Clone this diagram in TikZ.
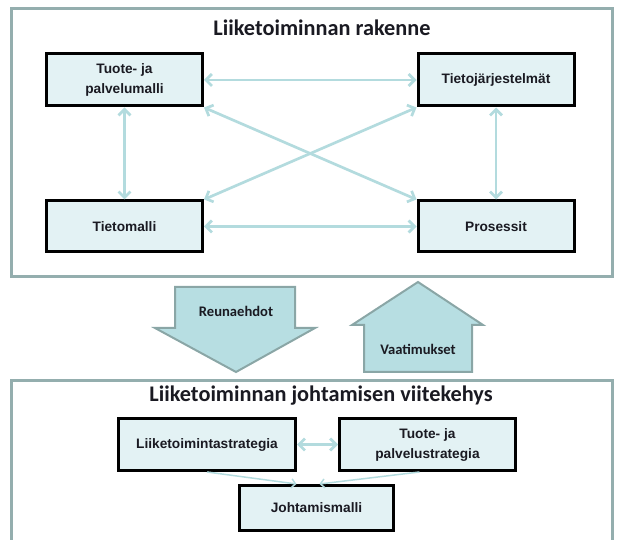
\documentclass[tikz,border=0pt]{standalone}
\usepackage{fontspec}
\setmainfont{Liberation Sans}
\newfontfamily\titlefont{Carlito}
\usetikzlibrary{arrows.meta}

\definecolor{framecol}{HTML}{94AEAE}
\definecolor{boxfill}{HTML}{E3F2F4}
\definecolor{linkcol}{HTML}{B3DBDE}
\definecolor{bigfill}{HTML}{B7DEE2}
\definecolor{bigedge}{HTML}{8AA6A6}
\definecolor{textdark}{HTML}{1A1A22}

\tikzset{
  frame/.style={draw=framecol, line width=3pt},
  stepbox/.style={draw=black, line width=3pt, fill=boxfill, inner sep=0pt,
    text=textdark, align=center, font=\bfseries\fontsize{13.7}{20}\selectfont},
  heading/.style={text=textdark, font=\titlefont\bfseries\fontsize{22.3}{26}\selectfont},
  biglabel/.style={text=textdark, font=\titlefont\bfseries\fontsize{14.6}{17}\selectfont},
  bigarrow/.style={draw=bigedge, fill=bigfill, line width=2pt, line join=miter},
  link/.style={draw=linkcol, line width=2.7pt,
    {Straight Barb[length=6pt,width=12pt]}-{Straight Barb[length=6pt,width=12pt]}},
  thinlink/.style={draw=linkcol, line width=1.5pt,
    -{Straight Barb[length=4pt,width=9pt]}},
}

\begin{document}
\begin{tikzpicture}[x=1pt, y=-1pt]
  \useasboundingbox (0,0) rectangle (622,540);

  % upper frame: business structure
  \draw[frame] (11.5,8.5) rectangle (612.5,276.5);
  \node[heading] (t1) at (322,28) {Liiketoiminnan rakenne};

  \node[stepbox, minimum width=156pt, minimum height=52pt] (tpm) at (124.5,80) {Tuote- ja\\palvelumalli};
  \node[stepbox, minimum width=156pt, minimum height=52pt] (tj)  at (496,80) {Tietojärjestelmät};
  \node[stepbox, minimum width=156pt, minimum height=51pt] (tm)  at (124.5,226.5) {Tietomalli};
  \node[stepbox, minimum width=156pt, minimum height=51pt] (pr)  at (496,226.5) {Prosessit};

  \draw[link] (tpm.east) -- (tj.west);
  \draw[link] (tm.east) -- (pr.west);
  \draw[link] (tpm.south) -- (tm.north);
  \draw[link] (tj.south) -- (pr.north);
  \draw[link] (tpm.south east) -- (pr.north west);
  \draw[link] (tj.south west) -- (tm.north east);

  % block arrows between the frames
  \draw[bigarrow] (175,287) -- (295,287) -- (295,328) -- (315,328) -- (236,372)
    -- (155,328) -- (175,328) -- cycle;
  \node[biglabel] (reuna) at (236,311) {Reunaehdot};

  \draw[bigarrow] (418,282) -- (483,325) -- (472,325) -- (472,372) -- (364,372)
    -- (364,325) -- (352,325) -- cycle;
  \node[biglabel] (vaat) at (418,349) {Vaatimukset};

  % lower frame: management framework (open at the bottom)
  \draw[frame] (11.5,541) -- (11.5,380.5) -- (612.5,380.5) -- (612.5,541);
  \node[heading] (t2) at (321,396) {Liiketoiminnan johtamisen viitekehys};

  \node[stepbox, minimum width=177pt, minimum height=52pt] (ls)  at (207,444.5) {Liiketoimintastrategia};
  \node[stepbox, minimum width=176pt, minimum height=52pt] (tps) at (427.5,444.5) {Tuote- ja\\palvelustrategia};
  \node[stepbox, minimum width=154pt, minimum height=45pt] (jm)  at (316.5,508) {Johtamismalli};

  \draw[link] (ls.east) -- (tps.west);
  \draw[thinlink] (ls.south) -- ([xshift=-20pt]jm.north);
  \draw[thinlink] ([xshift=-8pt]tps.south) -- ([xshift=3pt]jm.north);
\end{tikzpicture}
\end{document}
